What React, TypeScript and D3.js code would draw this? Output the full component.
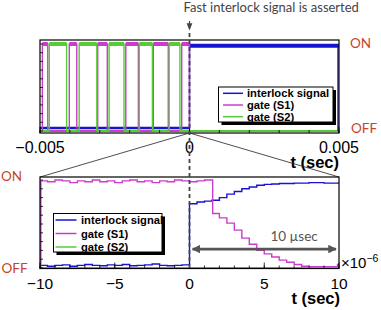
import React from "react";
import * as d3 from "d3";

// ---- data ----
// top panel: time in sec, level 0 = OFF, 1 = ON (step after each point)
const topInterlock = [[-0.005, 0.035], [0, 0.98], [0.005, 0.98]];
const topGateS1 = [
  [-0.005, 0], [-0.00492, 1], [-0.00474, 0], [-0.00402, 1], [-0.00377, 0],
  [-0.00307, 1], [-0.00275, 0], [-0.00213, 1], [-0.00171, 0], [-0.00121, 1],
  [-0.00071, 0], [-0.00026, 1], [0, 0], [0.005, 0],
];
const topGateS2 = [
  [-0.005, 0], [-0.00469, 1], [-0.00411, 0], [-0.00369, 1], [-0.0031, 0],
  [-0.00269, 1], [-0.00219, 0], [-0.00168, 1], [-0.00124, 0], [-0.00068, 1],
  [-0.00032, 0], [0.005, 0],
];

// bottom panel: time in usec
const botInterlock = [
  [-10, 0.03], [-9.5, 0.02], [-9, 0.03], [-8.5, 0.035], [-8, 0.02], [-7.5, 0.03],
  [-7, 0.04], [-6.5, 0.03], [-6, 0.025], [-5.5, 0.035], [-5, 0.03], [-4.5, 0.04],
  [-4, 0.025], [-3.5, 0.03], [-3, 0.035], [-2.5, 0.045], [-2, 0.03], [-1.5, 0.025],
  [-1, 0.03], [-0.5, 0.035], [0, 0.73], [0.5, 0.75], [1, 0.76], [1.5, 0.77],
  [2, 0.8], [2.5, 0.84], [3, 0.87], [3.5, 0.9], [4, 0.92], [4.5, 0.94], [5, 0.95],
  [5.5, 0.955], [6, 0.96], [7, 0.965], [8, 0.97], [9, 0.965], [10, 0.97],
];
const botGateS1 = [
  [-10, 0.99], [-9.5, 0.98], [-9, 1.0], [-8.5, 0.99], [-8, 0.97], [-7.5, 0.99],
  [-7, 0.98], [-6.5, 1.0], [-6, 0.98], [-5.5, 0.99], [-5, 0.97], [-4.5, 0.99],
  [-4, 1.0], [-3.5, 0.98], [-3, 0.99], [-2.5, 0.97], [-2, 0.99], [-1.5, 0.98],
  [-1, 1.0], [-0.5, 0.99], [0, 0.98], [0.5, 0.99], [1, 1.0], [1.55, 0.62],
  [2, 0.57], [2.5, 0.51], [3, 0.43], [3.5, 0.34], [4, 0.27], [4.5, 0.2],
  [5, 0.16], [5.5, 0.125], [6, 0.09], [6.5, 0.065], [7, 0.04], [7.5, 0.02],
  [8, 0.015], [9, 0.015], [9.9, 0.04], [10, 0.04],
];
const botGateS2 = [[-10, 0], [10, 0]];

const legendLabels = ["interlock signal", "gate (S1)", "gate (S2)"];
const colors = ["#1414d2", "#cc3ccc", "#55cc33"];
const topTickLabels = [-0.005, 0, 0.005];
const botTickLabels = [-10, -5, 0, 5, 10];

const W = 381;
const H = 310;
const L = 40;
const R = 339;
const topFrame = [40, 133];
const botFrame = [177, 268.5];

const xT = d3.scaleLinear().domain([-0.005, 0.005]).range([L, R]);
const yT = d3.scaleLinear().domain([0, 1]).range([131, 44]);
const xB = d3.scaleLinear().domain([-10, 10]).range([L, R]);
const yB = d3.scaleLinear().domain([0, 1]).range([268, 180]);

const red = "#c8452a";
const gray = "#444";
const humanist = "Lato, 'Open Sans', sans-serif";
const helv = "'Liberation Sans', Arial, sans-serif";

function stepPath(pts, x, y) {
  return d3
    .line()
    .x((d) => x(d[0]))
    .y((d) => y(d[1]))
    .curve(d3.curveStepAfter)(pts);
}

// thicker horizontal pieces mimic the noisy plateaus of the scope traces
function Plateaus({ pts, x, y, color, hi, lo }) {
  return (
    <g stroke={color}>
      {pts.slice(0, -1).map((d, i) => (
        <line
          key={i}
          x1={x(d[0])}
          x2={x(pts[i + 1][0])}
          y1={y(d[1])}
          y2={y(d[1])}
          strokeWidth={d[1] > 0.5 ? hi : lo}
        />
      ))}
    </g>
  );
}

function Legend({ x0, y0, w, h, rows, sx1, sx2, tx }) {
  return (
    <g>
      <rect x={x0 + 3} y={y0 + 3} width={w} height={h} fill="#000" />
      <rect x={x0} y={y0} width={w} height={h} fill="#fff" stroke="#000" strokeWidth={1} />
      {legendLabels.map((lab, i) => (
        <g key={lab}>
          <line x1={sx1} x2={sx2} y1={rows[i]} y2={rows[i]} stroke={colors[i]} strokeWidth={1.5} />
          <text
            x={tx}
            y={rows[i] + 4}
            fontFamily={helv}
            fontWeight="bold"
            fontSize={11.2}
            fill="#000"
          >
            {lab}
          </text>
        </g>
      ))}
    </g>
  );
}

function Ticks({ x, y, frame, minor, major, yMinor }) {
  const [, bot] = frame;
  return (
    <g stroke="#000" strokeWidth={0.8}>
      {minor.map((t, i) => (
        <line key={"m" + i} x1={x(t)} x2={x(t)} y1={bot} y2={bot - 3} />
      ))}
      {major.map((t, i) => (
        <line key={"M" + i} x1={x(t)} x2={x(t)} y1={bot} y2={bot - 6} />
      ))}
      {yMinor.map((v, i) => (
        <line key={"ym" + i} x1={L} x2={L + 3} y1={y(v)} y2={y(v)} />
      ))}
    </g>
  );
}

export default function App() {
  const topSeries = [topInterlock, topGateS1, topGateS2];
  const botSeries = [botInterlock, botGateS1, botGateS2];
  const x0 = xT(0);
  const arrowY = yB(0.215);
  return (
    <svg width={W} height={H} viewBox={`0 0 ${W} ${H}`} style={{ position: "absolute", left: 0, top: 0 }}>
      <defs>
        <clipPath id="clipTop">
          <rect x={L} y={topFrame[0]} width={R - L} height={topFrame[1] - topFrame[0]} />
        </clipPath>
        <clipPath id="clipBot">
          <rect x={L} y={botFrame[0]} width={R - L} height={botFrame[1] - botFrame[0]} />
        </clipPath>
        <marker id="ah" viewBox="0 0 10 10" refX="9" refY="5" markerWidth="3.3" markerHeight="3.3" orient="auto-start-reverse">
          <path d="M0,0 L10,5 L0,10 z" fill="#555" />
        </marker>
        <marker id="ah2" viewBox="0 0 10 10" refX="8" refY="5" markerWidth="6" markerHeight="6" orient="auto">
          <path d="M0,1 L10,5 L0,9 z" fill={gray} />
        </marker>
      </defs>
      <rect width={W} height={H} fill="#fff" />

      {/* top panel */}
      <rect x={L} y={topFrame[0]} width={R - L} height={topFrame[1] - topFrame[0]} fill="#fff" />
      <g clipPath="url(#clipTop)" fill="none">
        {topSeries.map((s, i) => (
          <g key={i}>
            <path d={stepPath(s, xT, yT)} stroke={colors[i]} strokeWidth={1.4} />
            <Plateaus pts={s} x={xT} y={yT} color={colors[i]} hi={4} lo={i === 0 ? 2.5 : 2} />
          </g>
        ))}
        <line x1={R - 1} x2={R - 1} y1={yT(0.98)} y2={yT(0)} stroke={colors[0]} strokeWidth={1.4} />
      </g>
      <Ticks x={xT} y={yT} frame={topFrame} minor={xT.ticks(10)} major={topTickLabels} yMinor={yT.ticks(10)} />
      <rect x={L} y={topFrame[0]} width={R - L} height={topFrame[1] - topFrame[0]} fill="none" stroke="#000" strokeWidth={1.2} />
      <Legend x0={218.5} y0={87} w={114.5} h={35} rows={[93.3, 105, 116.7]} sx1={223} sx2={243} tx={247} />
      {topTickLabels.map((t) => (
        <text key={t} x={xT(t)} y={152.5} textAnchor="middle" fontFamily={helv} fontSize={16} fill="#000">
          {t === 0 ? "0" : d3.format(".3f")(t).replace("-", "\u2212")}
        </text>
      ))}
      <text x={R} y={168} textAnchor="end" fontFamily={helv} fontWeight="bold" fontSize={16.5}>
        t (sec)
      </text>

      {/* zoom connectors */}
      <g stroke="#222" strokeWidth={0.8}>
        <line x1={x0} y1={topFrame[1]} x2={L} y2={botFrame[0]} />
        <line x1={x0} y1={topFrame[1]} x2={R} y2={botFrame[0]} />
      </g>

      {/* bottom panel */}
      <rect x={L} y={botFrame[0]} width={R - L} height={botFrame[1] - botFrame[0]} fill="#fff" />
      <g clipPath="url(#clipBot)" fill="none">
        {botSeries.map((s, i) => (
          <path key={i} d={stepPath(s, xB, yB)} stroke={colors[i]} strokeWidth={i === 2 ? 2.2 : 1.4} />
        ))}
        <line x1={L + 0.8} x2={L + 0.8} y1={yB(0)} y2={yB(0.99)} stroke={colors[1]} strokeWidth={1.5} />
      </g>
      <Ticks x={xB} y={yB} frame={botFrame} minor={xB.ticks(20)} major={botTickLabels} yMinor={yB.ticks(10)} />
      <rect x={L} y={botFrame[0]} width={R - L} height={botFrame[1] - botFrame[0]} fill="none" stroke="#000" strokeWidth={1.2} />
      <Legend x0={53.5} y0={213.5} w={108.5} h={38.5} rows={[220, 233.5, 247]} sx1={55.5} sx2={76.5} tx={81} />

      {/* 10 usec annotation */}
      <line
        x1={xB(0) + 3}
        x2={xB(10) - 3}
        y1={arrowY}
        y2={arrowY}
        stroke="#555"
        strokeWidth={2.6}
        markerStart="url(#ah)"
        markerEnd="url(#ah)"
      />
      <text x={xB(7)} y={240.5} textAnchor="middle" fontFamily={humanist} fontSize={13.5} fill="#555">
        10 µsec
      </text>

      {botTickLabels.map((t) => (
        <text key={t} x={xB(t)} y={288.5} textAnchor="middle" fontFamily={helv} fontSize={15.5} fill="#000">
          {t < 0 ? "\u2212" + Math.abs(t) : String(t)}
        </text>
      ))}
      <text x={R + 2} y={268} fontFamily={helv} fontSize={15} fill="#000">
        ×10
        <tspan fontSize={10.5} dy={-6}>
          −6
        </tspan>
      </text>
      <text x={R + 1} y={304} textAnchor="end" fontFamily={helv} fontWeight="bold" fontSize={16.5}>
        t (sec)
      </text>

      {/* assertion marker */}
      <line x1={x0} x2={x0} y1={33} y2={botFrame[1]} stroke={gray} strokeWidth={1.8} strokeDasharray="4,3" />
      <line x1={x0} x2={x0} y1={21} y2={29} stroke={gray} strokeWidth={1.2} markerEnd="url(#ah2)" />
      <text x={x0 - 6} y={12} fontFamily={humanist} fontSize={13} fill={gray}>
        Fast interlock signal is asserted
      </text>

      {/* ON / OFF labels */}
      <g fontFamily={humanist} fontSize={13.5} fill={red}>
        <text x={350} y={48}>ON</text>
        <text x={351} y={133}>OFF</text>
        <text x={1} y={181}>ON</text>
        <text x={1.5} y={273}>OFF</text>
      </g>
    </svg>
  );
}
